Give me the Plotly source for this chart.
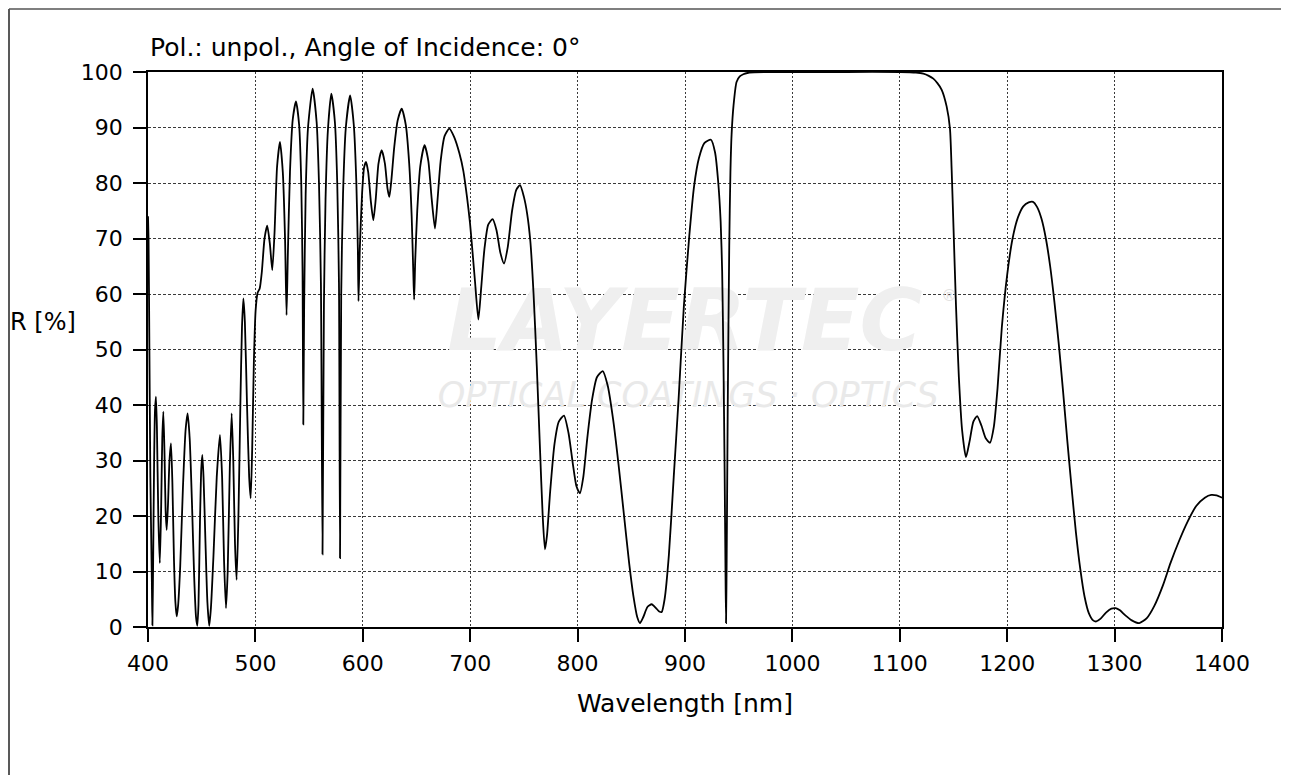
import plotly.graph_objects as go

# Wavelength [nm] and reflectance R [%]
wavelength = [
    400, 400.5, 401.3, 402.2, 403.0, 403.6, 404.1, 404.8, 405.7, 406.5, 407.4, 408.3, 409.6, 411.0,
    412.2, 413.3, 414.3, 415.4, 416.4, 417.4, 418.6, 420.0, 421.4, 422.7, 424.2, 425.5, 426.7, 428.0,
    430.0, 432.5, 435.0, 436.9, 438.8, 441.0, 443.0, 444.7, 445.9, 447.0, 448.4, 449.6, 450.6, 451.7,
    453.4, 455.3, 457.0, 458.6, 461.0, 464.0, 467.0, 469.0, 470.8, 472.6, 474.2, 476.2, 477.9, 479.4,
    481.0, 482.5, 484.2, 486.0, 487.5, 488.8, 490.2, 492.2, 494.2, 495.6, 497.0, 498.6, 500.2, 502.0,
    504.0, 506.0, 508.5, 511.0, 513.5, 515.7, 517.8, 520.2, 522.9, 525.5, 527.6, 529.0, 530.2, 532.2,
    534.8, 537.8, 540.7, 542.7, 543.9, 544.6, 545.4, 546.8, 549.0, 553.3, 557.0, 559.2, 561.0, 562.5,
    563.8, 565.3, 567.5, 570.7, 574.0, 576.2, 577.8, 578.8, 579.9, 581.6, 584.2, 588.2, 591.6, 594.0,
    595.4, 596.0, 597.2, 599.3, 601.2, 603.0, 605.0, 607.6, 609.8, 612.0, 614.6, 617.6, 620.6, 623.0,
    624.7, 626.6, 629.3, 632.5, 636.2, 640.0, 643.2, 645.5, 647.0, 647.8, 648.8, 650.7, 653.5, 657.5,
    661.0, 664.2, 667.2, 669.6, 672.5, 676.2, 680.6, 685.0, 690.0, 693.6, 697.0, 699.8, 702.2, 704.5,
    707.6, 710.2, 713.2, 716.8, 720.9, 724.5, 728.0, 731.5, 735.0, 739.0, 743.0, 746.4, 750.0, 753.0,
    756.0, 759.0, 762.0, 765.0, 767.5, 769.6, 771.5, 774.5, 778.5, 782.5, 787.3, 791.5, 795.5, 799.0,
    802.2, 805.3, 809.0, 813.5, 818.0, 823.4, 828.0, 833.0, 838.0, 843.0, 848.0, 852.0, 855.5, 858.1,
    861.2, 865.0, 869.0, 873.0, 876.0, 878.3, 881.0, 885.0, 889.5, 894.0, 899.0, 904.0, 908.5, 913.0,
    918.0, 924.2, 928.0, 931.0, 933.2, 934.6, 935.8, 936.9, 937.7, 938.2, 938.8, 939.8, 941.2, 942.3,
    943.4, 945.2, 948.0, 951.0, 954.3, 960.0, 1000, 1050, 1100, 1115, 1121.9, 1127.0, 1131.2, 1135.0,
    1139.0, 1143.6, 1146.7, 1148.3, 1150.0, 1152.3, 1155.0, 1158.0, 1161.6, 1165.0, 1168.5, 1172.0,
    1176.0, 1180.0, 1184.0, 1187.5, 1191.0, 1195.0, 1200.0, 1205.0, 1210.0, 1215.0, 1220.0, 1224.0,
    1228.0, 1232.0, 1236.0, 1240.0, 1244.0, 1248.0, 1252.0, 1256.0, 1260.0, 1264.0, 1268.0, 1272.0,
    1276.0, 1280.0, 1283.0, 1287.0, 1292.0, 1297.0, 1301.0, 1305.0, 1310.0, 1316.0, 1323.0, 1330.0,
    1337.0, 1345.0, 1352.0, 1360.0, 1368.0, 1376.0, 1384.0, 1390.0, 1395.0, 1400.0,
]
reflectance = [
    74, 70, 50, 27, 16, 8, 0.3, 12, 30, 39, 41.5, 36, 20, 11.5,
    21, 34, 38.8, 31, 21, 17.5, 22, 30, 33.1, 26, 12, 4.5, 1.9, 3.8,
    11, 25, 35.5, 38.5, 34, 22, 9, 1.8, 0.2, 4, 19, 28.5, 31, 27,
    16, 4.5, 0.2, 3.5, 13, 27, 34.6, 27, 12, 3.4, 10, 29, 38.5, 30,
    15, 8.5, 20, 40, 54, 59.2, 55, 40, 27, 23.2, 32, 48, 57, 60.2,
    61, 64, 70, 72.3, 69, 64.3, 71, 83, 87.4, 82, 70, 56.2, 67, 82,
    91.5, 94.7, 90.5, 80, 64, 36.5, 58, 78, 90, 97, 91, 80, 62, 13.1,
    58, 77, 89.5, 96.1, 91, 80, 62, 12.4, 60, 78, 90, 95.8, 90.5, 80,
    68, 58.7, 68, 78, 82.8, 83.8, 82, 76.5, 73.3, 77, 83.5, 85.9, 83.5, 79,
    77.5, 80.5, 86.5, 91.3, 93.4, 90.5, 83.5, 74, 64, 59, 66, 75, 83, 86.8,
    84, 77, 71.8, 77, 84, 88.5, 89.8, 88.3, 85.3, 82.2, 77.5, 72.8, 67.5, 62.2,
    55.4, 61, 68, 72.5, 73.5, 71.5, 67.5, 65.5, 68.5, 75, 78.8, 79.6, 77.5, 74.5,
    69.5, 60, 47, 32, 20, 14, 16.5, 24.5, 33, 37, 38.1, 35, 29.5, 25.3,
    24.1, 27, 34, 41, 45, 46.1, 43.5, 37.5, 29.5, 20.5, 11.5, 5.5, 1.8, 0.7,
    1.8, 3.6, 4.1, 3.4, 2.8, 2.7, 5, 13, 27, 41, 58, 70.5, 79.5, 84.5,
    87.2, 87.8, 85.5, 80, 73, 64, 48, 28, 10, 0.7, 12, 40, 68.8, 82,
    88.8, 94, 98.2, 99.2, 99.6, 99.9, 100, 100, 100, 99.9, 99.7, 99.3, 98.8, 98,
    96.8, 93.8, 89.8, 82.3, 72, 58, 45, 35.5, 30.6, 33.5, 37, 38,
    36.3, 34, 33.2, 36, 43, 54, 63.5, 70, 73.8, 75.8, 76.5, 76.6,
    75.6, 73.5, 70, 65, 58.5, 51, 42.5, 33.5, 25, 17, 10.5, 5.5,
    2.5, 1.2, 1, 1.5, 2.6, 3.3, 3.4, 3, 2.1, 1.2, 0.7, 1.6,
    3.8, 7.5, 11.5, 15.5, 19, 21.8, 23.3, 23.8, 23.7, 23.3,
]

x_ticks = [400, 500, 600, 700, 800, 900, 1000, 1100, 1200, 1300, 1400]
y_ticks = [0, 10, 20, 30, 40, 50, 60, 70, 80, 90, 100]

title_text = "Pol.: unpol., Angle of Incidence: 0°"
x_title = "Wavelength [nm]"
y_title = "R [%]"
watermark_main = "LAYERTEC"
watermark_sub = "OPTICAL COATINGS · OPTICS"

# page offset (browser body margin)
OFF = 8
W, H = 1281, 767
L, R, T = 148 - OFF, 67, 72 - OFF
B = H - (627 - OFF)
pw, ph = W - L - R, H - T - B

def px(xp):
    # page pixel x -> paper coordinate
    return (xp - OFF - L) / pw

def py(yp):
    # page pixel y -> paper coordinate
    return (H - B - (yp - OFF)) / ph

FONT = "DejaVu Sans"

fig = go.Figure()

# watermark (drawn beneath the curve)
fig.add_trace(go.Scatter(
    x=[900, 903], y=[53.8, 41.3], mode="text",
    text=[watermark_main, watermark_sub],
    textfont=dict(family=FONT, size=[86, 35], color=["#efefef", "#e9e9e9"],
                  style="italic", weight=[700, 400]),
    hoverinfo="skip", showlegend=False,
))
fig.add_trace(go.Scatter(
    x=[1146], y=[59.5], mode="text", text=["®"],
    textfont=dict(family=FONT, size=16, color="#e2e2e2"),
    hoverinfo="skip", showlegend=False,
))

fig.add_trace(go.Scatter(
    x=wavelength, y=reflectance, mode="lines",
    line=dict(color="black", width=1.8, shape="spline", smoothing=0.6),
    showlegend=False, hoverinfo="x+y",
))

axis_common = dict(
    showline=True, linecolor="black", linewidth=1.5, mirror=True,
    ticks="outside", ticklen=13, tickwidth=1.5, tickcolor="black",
    showgrid=True, gridcolor="#3a3a3a", gridwidth=1,
    zeroline=False, tickfont=dict(family=FONT, size=22, color="black"),
)

fig.update_layout(
    width=W, height=H,
    margin=dict(l=L, r=R, t=T, b=B, autoexpand=False),
    paper_bgcolor="white", plot_bgcolor="white",
    xaxis=dict(range=[400, 1400], tickmode="array", tickvals=x_ticks,
               griddash="2px,2px", ticklabelstandoff=3, **axis_common),
    yaxis=dict(range=[0, 100], tickmode="array", tickvals=y_ticks,
               griddash="3px,2px", ticklabelstandoff=6, **axis_common),
    annotations=[
        dict(text=title_text, xref="paper", yref="paper", x=px(148), y=py(47),
             xanchor="left", yanchor="middle", showarrow=False,
             font=dict(family=FONT, size=25, color="black")),
        dict(text=x_title, xref="paper", yref="paper", x=0.5, y=py(703),
             xanchor="center", yanchor="middle", showarrow=False,
             font=dict(family=FONT, size=25, color="black")),
        dict(text=y_title, xref="paper", yref="paper", x=px(8), y=py(322),
             xanchor="left", yanchor="middle", showarrow=False,
             font=dict(family=FONT, size=24, color="black")),
    ],
    shapes=[
        dict(type="line", xref="paper", yref="paper", x0=px(9), x1=px(9),
             y0=py(9), y1=py(800), line=dict(color="#222", width=1.5)),
        dict(type="line", xref="paper", yref="paper", x0=px(9), x1=px(1288),
             y0=py(9), y1=py(9), line=dict(color="#555", width=1.5)),
        dict(type="line", xref="paper", yref="paper", x0=px(1287.5), x1=px(1287.5),
             y0=py(9), y1=py(800), line=dict(color="#222", width=1.5)),
    ],
)

fig.write_html("out.html")
